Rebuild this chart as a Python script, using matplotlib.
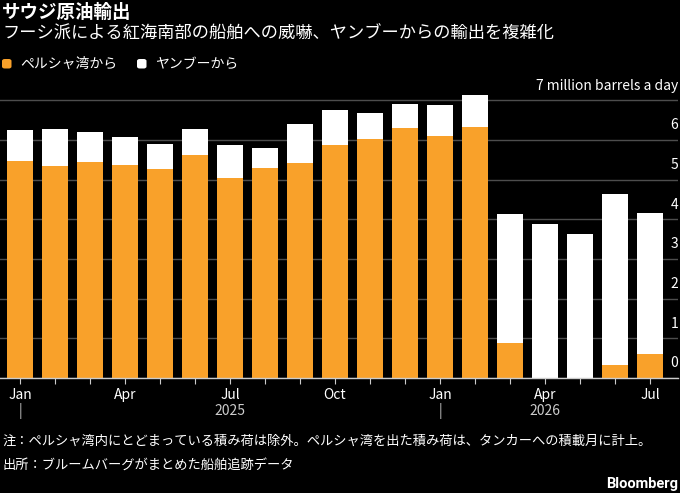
import matplotlib
matplotlib.use("Agg")
import matplotlib.pyplot as plt
import matplotlib.transforms as mtransforms
from matplotlib.patches import FancyBboxPatch
import numpy as np

plt.rcParams['font.family'] = ['Noto Sans CJK JP', 'DejaVu Sans']

months = ["Jan", "Feb", "Mar", "Apr", "May", "Jun", "Jul", "Aug", "Sep", "Oct", "Nov", "Dec",
          "Jan", "Feb", "Mar", "Apr", "May", "Jun", "Jul"]
gulf = [5.46, 5.35, 5.44, 5.36, 5.26, 5.61, 5.04, 5.29, 5.41, 5.88, 6.02, 6.30,
        6.11, 6.33, 0.87, 0.0, 0.0, 0.32, 0.61]
total = [6.26, 6.28, 6.21, 6.08, 5.91, 6.28, 5.88, 5.81, 6.41, 6.75, 6.69, 6.91,
         6.87, 7.13, 4.14, 3.89, 3.64, 4.64, 4.17]
yanbu = [t - g for t, g in zip(total, gulf)]
yticks = [0, 1, 2, 3, 4, 5, 6]
series_names = ["ペルシャ湾から", "ヤンブーから"]

ORANGE = '#f9a12a'
GRID = '#4d4d4d'

W, H = 680, 493
fig = plt.figure(figsize=(W / 100, H / 100), dpi=100, facecolor='black')
ax = fig.add_axes([0, 1 - 378 / H, 678 / W, (378 - 90.4) / H], facecolor='black')

x = np.arange(len(months))
ax.bar(x, gulf, width=0.74, color=ORANGE, zorder=3)
ax.bar(x, yanbu, bottom=gulf, width=0.74, color='white', zorder=3)

ax.set_xlim(-0.571, 18.8)
ax.set_ylim(0, 7.25)

for s in ['top', 'right', 'left']:
    ax.spines[s].set_visible(False)
ax.spines['bottom'].set_color('#cccccc')
ax.spines['bottom'].set_linewidth(1)
ax.spines['bottom'].set_zorder(4)

for v in yticks + [7]:
    ax.axhline(v, color=GRID, lw=1, zorder=1)
ax.set_yticks([])
off = mtransforms.ScaledTranslation(0, 5.5 / 72, fig.dpi_scale_trans)
trans = mtransforms.blended_transform_factory(ax.transAxes, ax.transData) + off
for v in yticks[::-1]:
    ax.text(1.0, v, str(v), transform=trans, ha='right', va='bottom',
            color='white', fontsize=10)
ax.text(1.0, 7, "7 million barrels a day", transform=trans, ha='right', va='bottom',
        color='white', fontsize=10)

ax.set_xticks(x)
ax.set_xticklabels([m if i % 3 == 0 else "" for i, m in enumerate(months)],
                   color='white', fontsize=10)
ax.tick_params(axis='x', length=4, color='#cccccc', pad=3)

# year row
ytrans = mtransforms.blended_transform_factory(ax.transData, fig.transFigure)
for xi, lab in [(0, "|"), (6, "2025"), (12, "|"), (15, "2026")]:
    ax.text(xi, 1 - 411 / H, lab, transform=ytrans, ha='center', va='center',
            color='#cccccc', fontsize=10)

fig.text(0.003, 1 - 12 / H, "サウジ原油輸出", color='white', fontsize=13.3,
         fontweight='bold', va='center', ha='left')
fig.text(0.003, 1 - 34 / H, "フーシ派による紅海南部の船舶への威嚇、ヤンブーからの輸出を複雑化",
         color='white', fontsize=12.4, va='center', ha='left')

# legend
for px, col, name in [(2, ORANGE, series_names[0]), (137, 'white', series_names[1])]:
    fig.patches.append(FancyBboxPatch((px / W, 1 - 68.5 / H), 9.5 / W, 9.5 / H,
                                      boxstyle="round,pad=0,rounding_size=0.004",
                                      transform=fig.transFigure, facecolor=col,
                                      edgecolor='none'))
    fig.text((px + 18) / W, 1 - 64 / H, name, color='white', fontsize=10,
             va='center', ha='left')

fig.text(0.003, 1 - 441 / H,
         "注：ペルシャ湾内にとどまっている積み荷は除外。ペルシャ湾を出た積み荷は、タンカーへの積載月に計上。",
         color='white', fontsize=9.55, va='center', ha='left')
fig.text(0.003, 1 - 465 / H, "出所：ブルームバーグがまとめた船舶追跡データ",
         color='white', fontsize=9.55, va='center', ha='left')
fig.text(0.997, 1 - 484 / H, "Bloomberg", color='white', fontsize=10.5,
         fontweight='bold', va='center', ha='right', family=['Roboto', 'DejaVu Sans'])

fig.savefig('out.png', dpi=100, facecolor='black')
